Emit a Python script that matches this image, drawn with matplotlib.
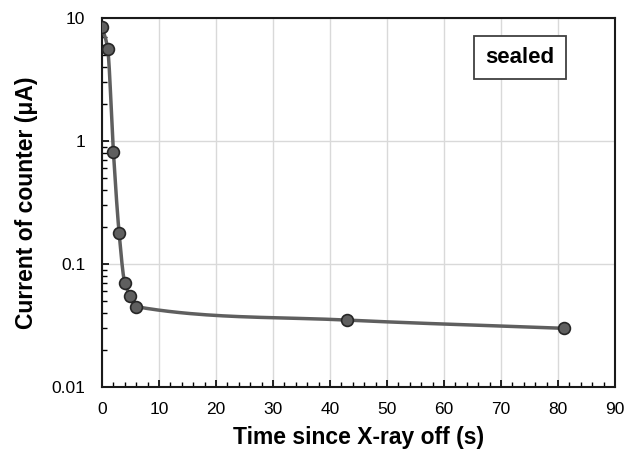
import numpy as np
import matplotlib.pyplot as plt

plt.rcParams['font.family'] = ['Liberation Sans', 'DejaVu Sans']

# data
time_s = [0, 1, 2, 3, 4, 5, 6, 43, 81]
current_uA = [8.5, 5.6, 0.82, 0.18, 0.07, 0.055, 0.045, 0.035, 0.030]


def smooth_curve(x, y, n=40):
    # monotone cubic (Fritsch-Carlson) through the points, in log y
    x = np.array(x, dtype=float)
    ly = np.log10(np.array(y, dtype=float))
    h = np.diff(x)
    d = np.diff(ly) / h
    m = np.zeros_like(x)
    m[0], m[-1] = d[0], d[-1]
    for i in range(1, len(x) - 1):
        if d[i - 1] * d[i] > 0:
            w1 = 2 * h[i] + h[i - 1]
            w2 = h[i] + 2 * h[i - 1]
            m[i] = (w1 + w2) / (w1 / d[i - 1] + w2 / d[i])
    xs, ys = [], []
    for i in range(len(x) - 1):
        t = np.linspace(0, 1, n)
        h00 = 2 * t**3 - 3 * t**2 + 1
        h10 = t**3 - 2 * t**2 + t
        h01 = -2 * t**3 + 3 * t**2
        h11 = t**3 - t**2
        xs.extend(x[i] + t * h[i])
        ys.extend(h00 * ly[i] + h10 * h[i] * m[i] + h01 * ly[i + 1] + h11 * h[i] * m[i + 1])
    return np.array(xs), 10 ** np.array(ys)


fig = plt.figure(figsize=(6.43, 4.5), dpi=100)
ax = fig.add_axes([0.1586, 0.14, 0.798, 0.82])

cx, cy = smooth_curve(time_s, current_uA)
ax.plot(cx, cy, color='#5f5f5f', lw=2.5, zorder=3)
ax.plot(time_s, current_uA, 'o', ms=8.5, mfc='#5f5f5f', mec='#262626', mew=1.2, zorder=4)

ax.set_yscale('log')
ax.set_xlim(0, 90)
ax.set_ylim(0.01, 10)
ax.set_xticks(np.arange(0, 91, 10))
ax.set_xticks(np.arange(0, 91, 2), minor=True)
ax.set_yticks([0.01, 0.1, 1, 10])
ax.set_yticklabels(['0.01', '0.1', '1', '10'])
ax.grid(True, which='major', color='#d9d9d9', lw=1)
ax.set_axisbelow(True)

for s in ax.spines.values():
    s.set_linewidth(1.5)
    s.set_color('#1a1a1a')
ax.tick_params(which='both', direction='in', top=False, right=False, labelsize=12.5)
ax.tick_params(which='major', length=5, width=1.2)
ax.tick_params(which='minor', length=3.5, width=1.0)
ax.tick_params(axis='x', pad=11)
ax.tick_params(axis='y', pad=12)

ax.set_xlabel('Time since X-ray off (s)', fontsize=16.5, fontweight='bold', labelpad=6)
ax.set_ylabel('Current of counter (μA)', fontsize=16.5, fontweight='bold', labelpad=10)

ax.text(0.815, 0.892, 'sealed', transform=ax.transAxes, fontsize=16, fontweight='bold',
        ha='center', va='center',
        bbox=dict(boxstyle='square,pad=0.5', fc='white', ec='#404040', lw=1.3))

fig.savefig('out.png', dpi=100)
